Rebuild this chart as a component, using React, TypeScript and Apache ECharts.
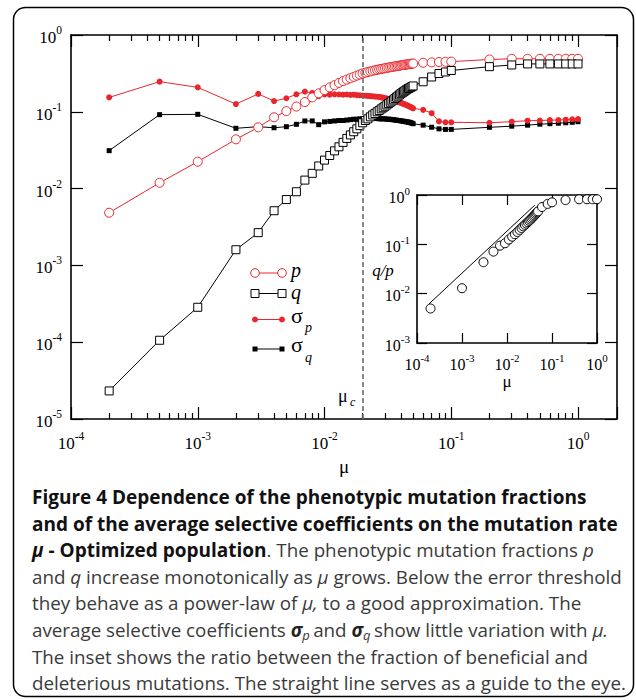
import React, { useEffect, useRef } from 'react';
import * as echarts from 'echarts';

// ---------- data ----------
const mu = [
  0.0002, 0.0005, 0.001, 0.002, 0.003, 0.004, 0.005, 0.006, 0.007, 0.008, 0.009,
  0.010, 0.011, 0.012, 0.013, 0.014, 0.015, 0.016, 0.017, 0.018, 0.019, 0.020,
  0.021, 0.022, 0.023, 0.024, 0.025, 0.026, 0.027, 0.028, 0.029, 0.030,
  0.031, 0.032, 0.033, 0.034, 0.035, 0.036, 0.037, 0.038, 0.039, 0.040,
  0.041, 0.042, 0.043, 0.044, 0.045, 0.046, 0.047, 0.048, 0.049, 0.050,
  0.06, 0.07, 0.08, 0.09, 0.1, 0.2, 0.3, 0.4, 0.5, 0.6, 0.7, 0.8, 0.9, 1.0,
];

const pFrac = [
  0.00485, 0.0119, 0.0224, 0.0438, 0.0628, 0.0848, 0.102, 0.117, 0.134, 0.154, 0.174,
  0.192, 0.208, 0.222, 0.238, 0.251, 0.263, 0.274, 0.285, 0.296, 0.306, 0.316,
  0.323, 0.330, 0.336, 0.342, 0.347, 0.352, 0.357, 0.361, 0.365, 0.369,
  0.373, 0.377, 0.380, 0.384, 0.387, 0.390, 0.393, 0.396, 0.399, 0.402,
  0.405, 0.407, 0.410, 0.412, 0.414, 0.417, 0.419, 0.421, 0.423, 0.425,
  0.435, 0.440, 0.445, 0.448, 0.450, 0.480, 0.490, 0.490, 0.490, 0.490, 0.490, 0.490, 0.490, 0.490,
];

const qFrac = [
  0.0000232, 0.000106, 0.000285, 0.0016, 0.00267, 0.00515, 0.0072, 0.0091, 0.0129, 0.0158, 0.0197,
  0.0235, 0.027, 0.031, 0.035, 0.040, 0.045, 0.050, 0.055, 0.060, 0.066, 0.072,
  0.077, 0.081, 0.086, 0.091, 0.095, 0.100, 0.104, 0.109, 0.113, 0.118,
  0.123, 0.128, 0.133, 0.138, 0.143, 0.149, 0.155, 0.160, 0.166, 0.172,
  0.177, 0.182, 0.187, 0.192, 0.197, 0.201, 0.205, 0.209, 0.213, 0.217,
  0.246, 0.284, 0.315, 0.330, 0.345, 0.387, 0.407, 0.420, 0.420, 0.420, 0.420, 0.420, 0.420, 0.420,
];

const sigmaP = [
  0.154, 0.247, 0.208, 0.126, 0.171, 0.138, 0.150, 0.169, 0.183, 0.176, 0.160,
  0.168, 0.167, 0.169, 0.168, 0.167, 0.168, 0.166, 0.167, 0.165, 0.164, 0.163,
  0.162, 0.161, 0.160, 0.159, 0.158, 0.157, 0.156, 0.154, 0.153, 0.151,
  0.149, 0.147, 0.145, 0.143, 0.141, 0.139, 0.137, 0.135, 0.133, 0.131,
  0.129, 0.127, 0.125, 0.123, 0.121, 0.119, 0.117, 0.115, 0.113, 0.111,
  0.106, 0.096, 0.075, 0.073, 0.073, 0.072, 0.0744, 0.0766, 0.077, 0.078, 0.078, 0.079, 0.080, 0.0805,
];

const sigmaQ = [
  0.0312, 0.0918, 0.0927, 0.061, 0.064, 0.062, 0.064, 0.0687, 0.076, 0.076, 0.068,
  0.074, 0.075, 0.076, 0.077, 0.077, 0.078, 0.079, 0.080, 0.080, 0.081, 0.081,
  0.082, 0.082, 0.082, 0.082, 0.082, 0.082, 0.081, 0.081, 0.081, 0.081,
  0.080, 0.080, 0.080, 0.079, 0.079, 0.078, 0.078, 0.077, 0.077, 0.076,
  0.076, 0.075, 0.075, 0.074, 0.074, 0.073, 0.073, 0.072, 0.071, 0.070,
  0.067, 0.063, 0.060, 0.059, 0.059, 0.0628, 0.065, 0.067, 0.069, 0.070, 0.071, 0.072, 0.073, 0.0743,
];

// inset: q/p
const insetMu = [
  0.0002, 0.001, 0.003, 0.005, 0.007, 0.009,
  0.011, 0.013, 0.015, 0.017, 0.019, 0.021, 0.023, 0.025, 0.027, 0.029,
  0.031, 0.033, 0.035, 0.037, 0.039, 0.041, 0.043, 0.045, 0.047, 0.049,
  0.06, 0.08, 0.1, 0.2, 0.4, 0.6, 0.8, 1.0,
];
const insetRatio = [
  0.005, 0.0129, 0.0434, 0.0712, 0.094, 0.105,
  0.125, 0.143, 0.160, 0.178, 0.196, 0.214, 0.231, 0.248, 0.265, 0.282,
  0.299, 0.316, 0.334, 0.352, 0.370, 0.388, 0.407, 0.426, 0.446, 0.466,
  0.57, 0.66, 0.71, 0.79, 0.82, 0.82, 0.82, 0.82,
];
const guideMu = [0.000185, 0.0413];
const guideRatio = [0.0062, 0.62];

const muCritical = 0.02;

// axis ranges / ticks
const X_MIN = 0.0001;
const X_MAX = 2.03;
const Y_MIN = 0.00001;
const Y_MAX = 1;
const INSET_X_MIN = 0.0001;
const INSET_X_MAX = 1;
const INSET_Y_MIN = 0.001;
const INSET_Y_MAX = 1;
const minorTickMultipliers = [2, 3, 4, 5, 6, 7, 8, 9];
const minorTickDecades = [-4, -3, -2, -1];

// ---------- styling ----------
const RED = '#e8262b';
const SERIF = "'Liberation Serif', 'Times New Roman', serif";
const SANS = "'Open Sans', 'Noto Sans', sans-serif";

const zip = (xs: number[], ys: number[]) => xs.map((x, i) => [x, ys[i]]);

const powLabel = (v: number) => {
  const e = Math.log10(v);
  const r = Math.round(e);
  if (Math.abs(e - r) > 1e-6) return '';
  return `{m|10}{s|${r}}`;
};

const richMain = {
  m: { fontSize: 17, fontFamily: SERIF, color: '#000', lineHeight: 22, verticalAlign: 'bottom' },
  s: { fontSize: 11.5, fontFamily: SERIF, color: '#000', lineHeight: 8, verticalAlign: 'top' },
};
const richInset = {
  m: { fontSize: 16, fontFamily: SERIF, color: '#000', lineHeight: 20, verticalAlign: 'bottom' },
  s: { fontSize: 11, fontFamily: SERIF, color: '#000', lineHeight: 8, verticalAlign: 'top' },
};

const AXIS_LINE = { show: true, onZero: false, lineStyle: { color: '#000', width: 1.6 } };
const NO_LINE = { show: false, onZero: false };
const TICK_STYLE = { color: '#000', width: 1.2 };

function buildOption() {
  const minorLog = minorTickDecades.flatMap((d) => minorTickMultipliers.map((k) => d + Math.log10(k)));
  const xMaxLog = Math.log10(X_MAX);

  const xAxis: any[] = [
    {
      gridIndex: 0, type: 'log', logBase: 10, min: X_MIN, max: X_MAX, position: 'bottom',
      axisLine: AXIS_LINE,
      axisTick: { inside: true, length: 12, lineStyle: TICK_STYLE },
      axisLabel: { formatter: powLabel, rich: richMain, margin: 11 },
      splitLine: { show: false },
      name: 'μ', nameLocation: 'middle', nameGap: 34,
      nameTextStyle: { fontFamily: SERIF, fontSize: 19, color: '#000' },
    },
    {
      gridIndex: 0, type: 'log', logBase: 10, min: X_MIN, max: X_MAX, position: 'top',
      axisLine: AXIS_LINE,
      axisTick: { inside: true, length: 12, lineStyle: TICK_STYLE },
      axisLabel: { show: false }, splitLine: { show: false },
    },
    {
      gridIndex: 0, type: 'value', min: -4, max: xMaxLog, position: 'bottom',
      axisLine: NO_LINE,
      axisTick: { inside: true, length: 6, lineStyle: TICK_STYLE, customValues: minorLog },
      axisLabel: { show: false }, splitLine: { show: false },
    },
    {
      gridIndex: 0, type: 'value', min: -4, max: xMaxLog, position: 'top',
      axisLine: NO_LINE,
      axisTick: { inside: true, length: 6, lineStyle: TICK_STYLE, customValues: minorLog },
      axisLabel: { show: false }, splitLine: { show: false },
    },
    {
      gridIndex: 1, type: 'log', logBase: 10, min: INSET_X_MIN, max: INSET_X_MAX, position: 'bottom',
      axisLine: AXIS_LINE,
      axisTick: { inside: true, length: 10, lineStyle: TICK_STYLE },
      axisLabel: { formatter: powLabel, rich: richInset, margin: 9 },
      splitLine: { show: false },
      name: 'μ', nameLocation: 'middle', nameGap: 30,
      nameTextStyle: { fontFamily: SERIF, fontSize: 17, color: '#000' },
    },
    {
      gridIndex: 1, type: 'log', logBase: 10, min: INSET_X_MIN, max: INSET_X_MAX, position: 'top',
      axisLine: AXIS_LINE,
      axisTick: { inside: true, length: 10, lineStyle: TICK_STYLE },
      axisLabel: { show: false }, splitLine: { show: false },
    },
  ];

  const yAxis: any[] = [
    {
      gridIndex: 0, type: 'log', logBase: 10, min: Y_MIN, max: Y_MAX, position: 'left',
      axisLine: AXIS_LINE,
      axisTick: { inside: true, length: 12, lineStyle: TICK_STYLE },
      axisLabel: { formatter: powLabel, rich: richMain, margin: 9 },
      splitLine: { show: false },
    },
    {
      gridIndex: 0, type: 'log', logBase: 10, min: Y_MIN, max: Y_MAX, position: 'right',
      axisLine: AXIS_LINE,
      axisTick: { inside: true, length: 12, lineStyle: TICK_STYLE },
      axisLabel: { show: false }, splitLine: { show: false },
    },
    {
      gridIndex: 1, type: 'log', logBase: 10, min: INSET_Y_MIN, max: INSET_Y_MAX, position: 'left',
      axisLine: AXIS_LINE,
      axisTick: { inside: true, length: 10, lineStyle: TICK_STYLE },
      axisLabel: { formatter: powLabel, rich: richInset, margin: 7 },
      splitLine: { show: false },
    },
    {
      gridIndex: 1, type: 'log', logBase: 10, min: INSET_Y_MIN, max: INSET_Y_MAX, position: 'right',
      axisLine: AXIS_LINE,
      axisTick: { inside: true, length: 10, lineStyle: TICK_STYLE },
      axisLabel: { show: false }, splitLine: { show: false },
    },
  ];

  const series: any[] = [
    {
      name: 'σq', type: 'line', xAxisIndex: 0, yAxisIndex: 0, data: zip(mu, sigmaQ),
      symbol: 'rect', symbolSize: 5, showAllSymbol: true,
      itemStyle: { color: '#000' }, lineStyle: { color: '#000', width: 1 },
      markLine: {
        silent: true, symbol: ['none', 'none'], label: { show: false },
        lineStyle: { type: [5, 3], color: '#6b6b6b', width: 1.6 },
        data: [{ xAxis: muCritical }],
      },
    },
    {
      name: 'σp', type: 'line', xAxisIndex: 0, yAxisIndex: 0, data: zip(mu, sigmaP),
      symbol: 'circle', symbolSize: 6, showAllSymbol: true,
      itemStyle: { color: RED }, lineStyle: { color: RED, width: 1 },
    },
    {
      name: 'p', type: 'line', xAxisIndex: 0, yAxisIndex: 0, data: zip(mu, pFrac),
      symbol: 'circle', symbolSize: 9, showAllSymbol: true,
      itemStyle: { color: '#fff', borderColor: RED, borderWidth: 1 }, lineStyle: { color: RED, width: 1 },
    },
    {
      name: 'q', type: 'line', xAxisIndex: 0, yAxisIndex: 0, data: zip(mu, qFrac),
      symbol: 'rect', symbolSize: 8, showAllSymbol: true,
      itemStyle: { color: '#fff', borderColor: '#000', borderWidth: 1 }, lineStyle: { color: '#000', width: 1 },
    },
    {
      name: 'guide', type: 'line', xAxisIndex: 4, yAxisIndex: 2, data: zip(guideMu, guideRatio),
      symbol: 'none', lineStyle: { color: '#000', width: 1 },
    },
    {
      name: 'q/p', type: 'scatter', xAxisIndex: 4, yAxisIndex: 2, data: zip(insetMu, insetRatio),
      symbol: 'circle', symbolSize: 9,
      itemStyle: { color: '#fff', borderColor: '#000', borderWidth: 1, opacity: 1 },
    },
  ];

  const txt = (x: number, y: number, text: string, opts: any = {}) => ({
    type: 'text', x, y, silent: true,
    style: { text, fontFamily: SERIF, fontSize: 17, fill: '#000', align: 'left', verticalAlign: 'middle', ...opts },
  });

  const legendX1 = 255;
  const legendX2 = 282;
  const legend: any[] = [
    // p
    { type: 'line', shape: { x1: legendX1, y1: 273, x2: legendX2, y2: 273 }, style: { stroke: RED, lineWidth: 1 } },
    { type: 'circle', shape: { cx: legendX1, cy: 273, r: 4.3 }, style: { fill: '#fff', stroke: RED, lineWidth: 1 } },
    { type: 'circle', shape: { cx: legendX2, cy: 273, r: 4.3 }, style: { fill: '#fff', stroke: RED, lineWidth: 1 } },
    txt(291, 270, 'p', { fontStyle: 'italic', fontSize: 20 }),
    // q
    { type: 'line', shape: { x1: legendX1, y1: 293.5, x2: legendX2, y2: 293.5 }, style: { stroke: '#000', lineWidth: 1 } },
    { type: 'rect', shape: { x: legendX1 - 4, y: 289.5, width: 8, height: 8 }, style: { fill: '#fff', stroke: '#000', lineWidth: 1 } },
    { type: 'rect', shape: { x: legendX2 - 4, y: 289.5, width: 8, height: 8 }, style: { fill: '#fff', stroke: '#000', lineWidth: 1 } },
    txt(291, 291.5, 'q', { fontStyle: 'italic', fontSize: 20 }),
    // sigma p
    { type: 'line', shape: { x1: legendX1, y1: 319.5, x2: legendX2, y2: 319.5 }, style: { stroke: RED, lineWidth: 1 } },
    { type: 'circle', shape: { cx: legendX1, cy: 319.5, r: 3 }, style: { fill: RED } },
    { type: 'circle', shape: { cx: legendX2, cy: 319.5, r: 3 }, style: { fill: RED } },
    txt(291, 315, 'σ', { fontSize: 22 }),
    txt(305, 327, 'p', { fontStyle: 'italic', fontSize: 14 }),
    // sigma q
    { type: 'line', shape: { x1: legendX1, y1: 349, x2: legendX2, y2: 349 }, style: { stroke: '#000', lineWidth: 1 } },
    { type: 'rect', shape: { x: legendX1 - 2.5, y: 346.5, width: 5, height: 5 }, style: { fill: '#000' } },
    { type: 'rect', shape: { x: legendX2 - 2.5, y: 346.5, width: 5, height: 5 }, style: { fill: '#000' } },
    txt(291, 344.5, 'σ', { fontSize: 22 }),
    txt(305, 357, 'q', { fontStyle: 'italic', fontSize: 14 }),
  ];

  const annotations: any[] = [
    txt(338, 396, 'μ', { fontSize: 18 }),
    txt(350, 402, 'c', { fontStyle: 'italic', fontSize: 12 }),
    txt(383, 270, 'q/p', { fontStyle: 'italic', fontSize: 17, align: 'center' }),
  ];

  const capReg = { fontFamily: SANS, fontSize: 18.8, lineHeight: 24 };
  const capBold = { fontFamily: SANS, fontSize: 19, lineHeight: 24 };
  const capRich = {
    B: { ...capBold, fontWeight: 'bold', fill: '#111' },
    BI: { ...capBold, fontWeight: 'bold', fontStyle: 'italic', fill: '#111' },
    R: { ...capReg, fill: '#3a3a3a' },
    I: { ...capReg, fontStyle: 'italic', fill: '#3a3a3a' },
    SB: { ...capReg, fontWeight: 'bold', fontStyle: 'italic', fill: '#222' },
    SI: { fontFamily: SANS, fontSize: 13, lineHeight: 13, padding: [10, 0, 0, 0], fontStyle: 'italic', fill: '#3a3a3a' },
  };
  const captionLines = [
    '{B|Figure 4 Dependence of the phenotypic mutation fractions}',
    '{B|and of the average selective coefficients on the mutation rate}',
    '{BI|μ }{B|- Optimized population}{R|. The phenotypic mutation fractions }{I|p}',
    '{R|and }{I|q }{R|increase monotonically as }{I|μ }{R|grows. Below the error threshold}',
    '{R|they behave as a power-law of }{I|μ, }{R|to a good approximation. The}',
    '{R|average selective coefficients }{SB|σ}{SI|p }{R|and }{SB|σ}{SI|q }{R|show little variation with }{I|μ.}',
    '{R|The inset shows the ratio between the fraction of beneficial and}',
    '{R|deleterious mutations. The straight line serves as a guide to the eye.}',
  ];
  const caption = captionLines.map((line, i) => ({
    type: 'text', x: 32, y: 497 + i * 26.6, silent: true,
    style: { text: line, rich: capRich, align: 'left', verticalAlign: 'middle', fontFamily: SANS, fontSize: 19 },
  }));

  return {
    animation: false,
    backgroundColor: '#fff',
    grid: [
      { left: 71, top: 35, width: 546, height: 384 },
      { left: 417, top: 195, width: 180, height: 148 },
    ],
    xAxis,
    yAxis,
    series,
    graphic: [
      {
        type: 'rect', silent: true,
        shape: { x: 13.5, y: 7.5, width: 620, height: 689, r: 12 },
        style: { fill: 'none', stroke: '#000', lineWidth: 1.5 },
      },
      ...legend,
      ...annotations,
      ...caption,
    ],
  };
}

export default function App() {
  const ref = useRef<HTMLDivElement>(null);
  useEffect(() => {
    if (!ref.current) return;
    const chart = echarts.init(ref.current, null, { renderer: 'svg' });
    chart.setOption(buildOption());
    return () => chart.dispose();
  }, []);
  return (
    <div
      ref={ref}
      style={{ position: 'absolute', left: 0, top: 0, width: 636, height: 700, background: '#fff' }}
    />
  );
}
